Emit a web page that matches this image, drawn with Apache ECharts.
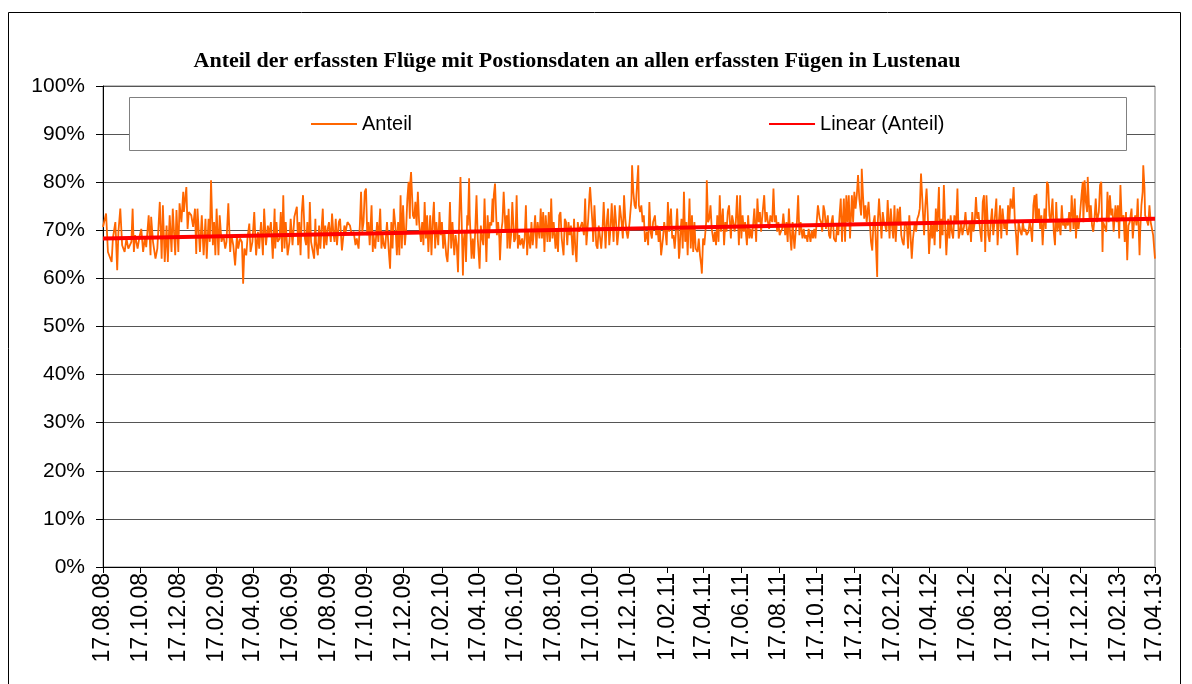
<!DOCTYPE html>
<html>
<head>
<meta charset="utf-8">
<title>Anteil der erfassten Flüge</title>
<script src="https://cdn.jsdelivr.net/npm/echarts@6/dist/echarts.min.js"></script>
<style>
html, body { margin: 0; padding: 0; background: #fff; }
#chart { width: 1192px; height: 684px; }
</style>
</head>
<body>
<div id="chart"></div>
<script>
// täglich vom 17.08.08 bis 17.04.13
const startUtc = Date.UTC(2008, 7, 17)
const dayCount = 1705

const tickLabels = ['17.08.08', '17.10.08', '17.12.08', '17.02.09', '17.04.09', '17.06.09', '17.08.09',
  '17.10.09', '17.12.09', '17.02.10', '17.04.10', '17.06.10', '17.08.10', '17.10.10', '17.12.10',
  '17.02.11', '17.04.11', '17.06.11', '17.08.11', '17.10.11', '17.12.11', '17.02.12', '17.04.12',
  '17.06.12', '17.08.12', '17.10.12', '17.12.12', '17.02.13', '17.04.13']

const anteil = [
  [0, 70.7], [5, 73.5], [8, 65.5], [14, 63.4], [16, 68.3], [20, 71.7], [23, 61.7], [25, 69.7], [28, 74.5], [31, 66.9], [35, 65.5], [38, 68.3], [41, 66.2], [46, 67.6], [48, 74.5], [50, 65.5], [52, 69.0], [56, 66.2], [59, 68.6], [62, 70.3], [65, 65.5], [68, 68.6], [70, 66.5], [74, 73.1], [77, 64.8], [78, 72.8], [81, 67.6], [85, 64.1], [88, 66.2], [92, 75.9], [95, 64.1], [97, 75.2], [100, 63.4], [103, 71.0], [105, 63.4], [108, 73.1], [111, 65.5], [113, 74.5], [117, 64.8], [119, 74.2], [122, 65.5], [124, 75.6], [127, 71.7], [130, 78.0], [131, 73.8], [135, 79.0], [137, 70.3], [139, 73.8], [143, 73.1], [146, 70.7], [149, 74.5], [151, 65.1],
  [153, 74.5], [157, 65.5], [160, 73.1], [163, 64.8], [166, 72.4], [168, 64.1], [171, 72.4], [173, 67.6], [175, 80.4], [178, 66.9], [180, 71.7], [182, 64.8], [184, 74.5], [187, 64.8], [189, 73.1], [192, 67.6], [195, 69.0], [198, 66.2], [200, 67.6], [203, 75.6], [206, 65.5], [208, 69.0], [211, 66.9], [214, 62.7], [217, 69.0], [219, 66.2], [222, 68.3], [225, 67.6], [227, 58.9], [229, 66.2], [232, 64.8], [234, 68.3], [237, 71.4], [239, 65.5], [242, 67.6], [245, 73.8], [248, 64.8], [251, 69.7], [253, 66.2], [256, 71.7], [259, 64.8], [261, 74.5], [264, 66.9], [267, 71.0], [269, 69.0], [272, 71.7], [275, 64.1], [278, 74.5], [279, 66.2], [281, 71.7], [283, 67.6], [286, 68.3], [288, 73.8], [290, 65.5], [292, 77.3], [294, 66.2], [296, 71.7], [299, 64.8], [302, 67.6], [304, 72.4], [307, 66.9], [310, 72.8],
  [314, 74.9], [316, 66.9], [318, 71.7], [320, 64.8], [322, 73.8], [324, 77.3], [327, 68.3], [329, 66.9], [331, 71.7], [333, 64.1], [335, 75.9], [337, 67.6], [339, 66.2], [342, 64.1], [344, 72.4], [345, 67.6], [348, 64.8], [350, 71.0], [352, 66.2], [356, 74.5], [358, 66.2], [360, 71.0], [362, 66.9], [364, 70.3], [366, 71.7], [369, 67.6], [371, 73.5], [373, 69.7], [375, 67.6], [377, 72.4], [379, 66.9], [382, 71.7], [384, 72.4], [387, 65.8], [391, 71.0], [393, 69.7], [396, 71.7], [398, 72.1], [400, 71.0], [403, 69.0], [406, 69.7], [409, 66.9], [411, 68.3], [414, 66.2], [416, 71.0], [418, 78.0], [420, 69.7], [422, 71.7], [424, 78.0], [426, 78.7], [428, 69.0], [430, 71.7], [432, 66.9], [435, 75.2], [437, 65.5], [438, 69.0], [441, 66.2], [444, 71.7], [446, 67.6], [449, 74.5], [451, 66.2], [453, 69.0], [455, 66.9], [457, 66.2], [460, 71.7], [463, 65.5], [465, 62.0], [467, 71.7],
  [469, 66.2], [471, 74.5], [474, 70.3], [476, 64.8], [478, 71.7], [480, 64.8], [482, 77.3], [484, 66.2], [486, 75.2], [489, 66.9], [491, 70.3], [493, 76.6], [495, 80.1], [497, 72.4], [498, 80.4], [499, 82.1], [502, 73.1], [504, 72.4], [506, 75.9], [508, 71.0], [510, 78.0], [512, 71.7], [515, 67.6], [517, 71.7], [519, 66.9], [521, 75.9], [523, 68.3], [525, 73.1], [527, 65.5], [530, 73.1], [532, 64.8], [534, 71.7], [536, 75.9], [538, 66.2], [540, 71.7], [543, 66.9], [545, 73.8], [547, 69.0], [549, 71.7], [551, 66.2], [553, 69.7], [556, 64.8], [558, 63.4], [560, 68.3], [562, 75.9], [564, 66.2], [566, 71.7], [569, 64.8], [571, 69.0], [573, 66.9], [575, 61.3], [577, 72.4], [579, 81.1], [581, 71.7], [583, 60.6], [584, 67.6], [586, 69.7], [588, 63.4], [590, 73.1], [591, 71.0], [593, 80.8], [594, 73.1], [597, 64.1], [599, 68.3], [601, 64.1], [603, 70.3], [605, 77.3], [607, 68.3], [610, 62.0], [612, 71.0], [614, 68.3], [616, 66.9], [618, 76.6], [621, 63.4], [623, 73.1],
  [625, 68.3], [627, 71.7], [629, 71.0], [631, 76.6], [632, 71.7], [633, 77.3], [635, 79.7], [638, 69.0], [640, 71.7], [642, 68.3], [643, 63.8], [645, 69.7], [647, 71.7], [649, 78.0], [652, 69.7], [654, 73.1], [655, 66.2], [657, 74.5], [659, 66.2], [661, 69.0], [663, 75.9], [666, 67.6], [668, 68.3], [670, 77.3], [672, 66.2], [674, 69.0], [676, 66.9], [679, 68.3], [681, 66.2], [683, 68.3], [685, 75.2], [687, 64.8], [689, 69.7], [692, 66.2], [694, 71.7], [696, 66.9], [698, 69.7], [700, 73.1], [702, 66.2], [704, 71.7], [707, 68.3], [709, 74.5], [711, 68.3], [713, 73.8], [715, 65.5], [717, 73.1], [720, 67.6], [722, 73.8], [724, 67.6], [726, 76.6], [728, 68.3], [730, 71.7], [733, 66.2], [735, 70.3], [737, 65.5], [739, 73.1], [741, 73.8], [743, 68.3], [746, 64.8], [748, 72.4], [750, 71.7], [752, 66.9], [754, 71.7], [756, 69.0], [758, 71.0], [761, 64.8], [763, 72.4], [765, 66.2], [767, 63.4], [769, 71.7], [771, 69.7], [774, 69.7], [776, 71.7],
  [779, 69.0], [781, 76.6], [783, 66.9], [786, 72.4], [788, 77.3], [789, 79.0], [791, 79.4], [793, 71.0], [794, 67.6], [796, 75.2], [799, 66.9], [801, 66.2], [803, 71.0], [805, 71.0], [807, 66.2], [809, 69.7], [811, 75.9], [814, 66.2], [816, 71.7], [818, 74.5], [820, 66.9], [822, 70.3], [824, 75.6], [827, 67.6], [829, 75.2], [831, 71.7], [833, 66.9], [835, 69.7], [837, 75.2], [840, 71.7], [842, 68.3], [844, 77.3], [846, 72.4], [848, 69.7], [850, 68.3], [853, 71.7], [855, 71.7], [856, 76.6], [857, 83.5], [859, 78.0], [861, 75.2], [863, 74.5], [864, 77.3], [867, 83.5], [868, 75.2], [870, 73.8], [872, 75.2], [874, 71.7], [876, 73.1], [878, 67.6], [881, 69.7], [883, 66.9], [885, 75.9], [887, 69.7], [889, 68.3], [891, 71.7], [894, 73.1], [896, 69.0], [898, 71.0], [900, 67.6], [902, 70.3], [904, 64.8], [907, 68.3], [909, 71.7], [911, 69.7], [913, 66.9], [915, 75.9], [917, 69.7], [920, 74.5], [922, 68.3], [924, 69.0], [926, 66.2], [928, 69.7], [930, 74.5], [933, 64.1], [934, 65.5],
  [935, 69.0], [937, 72.4], [939, 66.2], [941, 78.0], [943, 67.6], [945, 71.7], [947, 64.8], [950, 76.6], [952, 66.2], [954, 73.1], [956, 65.5], [958, 71.7], [960, 66.2], [963, 65.5], [965, 68.3], [967, 64.8], [969, 62.7], [970, 61.0], [972, 68.3], [974, 66.9], [977, 71.7], [978, 80.4], [980, 71.7], [982, 72.4], [984, 75.2], [986, 70.3], [989, 67.6], [991, 69.7], [993, 66.9], [995, 73.1], [997, 67.6], [999, 77.3], [1001, 69.7], [1004, 74.5], [1006, 66.9], [1008, 71.7], [1010, 69.7], [1012, 73.8], [1014, 75.2], [1017, 68.3], [1019, 73.1], [1021, 71.7], [1023, 69.7], [1025, 71.7], [1027, 77.3], [1030, 66.9], [1032, 77.3], [1034, 68.3], [1036, 73.1], [1038, 69.7], [1040, 71.7], [1043, 66.9], [1045, 73.1], [1047, 68.3], [1049, 70.3], [1051, 68.3], [1053, 71.0], [1055, 74.5], [1058, 67.6], [1060, 76.6], [1062, 71.7], [1064, 73.8], [1066, 69.7], [1068, 73.1], [1071, 77.3], [1073, 71.7], [1075, 73.8], [1077, 71.7], [1079, 70.3], [1081, 73.1], [1084, 71.7], [1086, 78.7], [1088, 71.7],
  [1090, 73.1], [1092, 69.7], [1094, 71.7], [1096, 69.0], [1098, 69.7], [1100, 70.3], [1102, 73.5], [1105, 69.0], [1107, 71.7], [1109, 67.6], [1111, 74.5], [1113, 69.0], [1115, 65.8], [1117, 71.7], [1120, 66.2], [1122, 69.7], [1124, 71.7], [1126, 77.3], [1128, 69.0], [1130, 71.7], [1133, 68.3], [1135, 70.3], [1137, 68.3], [1139, 69.0], [1141, 67.6], [1143, 70.3], [1146, 67.6], [1148, 70.0], [1150, 68.3], [1152, 70.3], [1154, 68.3], [1156, 71.7], [1158, 75.2], [1161, 72.4], [1163, 71.7], [1165, 69.7], [1167, 75.2], [1169, 73.8], [1171, 70.3], [1174, 73.1], [1176, 69.0], [1178, 68.3], [1180, 71.7], [1182, 73.1], [1184, 68.3], [1187, 67.6], [1189, 71.0], [1191, 69.0], [1193, 73.1], [1195, 76.6], [1197, 67.6], [1200, 76.6], [1202, 67.6], [1204, 77.3], [1206, 71.7], [1208, 77.3], [1210, 68.3], [1213, 77.3], [1215, 71.7], [1217, 78.0], [1219, 74.5], [1221, 77.3], [1223, 81.5], [1225, 76.6], [1228, 73.1], [1229, 82.8], [1231, 77.3], [1233, 72.4], [1235, 75.2], [1237, 71.7], [1240, 75.9], [1242, 71.7], [1244, 67.6],
  [1246, 65.8], [1248, 71.7], [1250, 73.1], [1252, 66.9], [1254, 60.3], [1255, 71.7], [1257, 76.6], [1258, 76.9], [1261, 68.3], [1263, 73.8], [1265, 71.7], [1267, 71.0], [1269, 69.7], [1271, 76.3], [1274, 68.3], [1276, 74.5], [1278, 71.0], [1280, 68.3], [1282, 75.2], [1284, 67.6], [1287, 74.5], [1289, 71.0], [1291, 74.9], [1293, 69.0], [1295, 67.6], [1297, 66.9], [1299, 71.7], [1302, 71.0], [1304, 66.2], [1306, 73.1], [1308, 69.0], [1310, 64.1], [1312, 68.3], [1315, 71.7], [1317, 69.7], [1319, 72.4], [1321, 73.1], [1323, 74.5], [1325, 81.8], [1328, 81.5], [1330, 69.0], [1332, 75.2], [1334, 78.7], [1336, 73.1], [1338, 65.1], [1341, 71.7], [1343, 68.3], [1345, 71.7], [1347, 66.9], [1349, 74.5], [1351, 69.7], [1354, 79.0], [1356, 66.2], [1358, 72.4], [1360, 69.0], [1362, 79.4], [1364, 71.7], [1366, 64.8], [1369, 72.4], [1371, 68.3], [1373, 73.1], [1375, 69.7], [1377, 68.3], [1379, 73.1], [1382, 71.7], [1384, 78.7], [1386, 68.3], [1388, 69.7], [1390, 71.7], [1392, 69.0], [1395, 71.0], [1397, 73.8], [1399, 70.3],
  [1401, 69.0], [1404, 71.7], [1406, 67.6], [1408, 73.8], [1410, 69.7], [1412, 71.7], [1414, 76.9], [1416, 72.4], [1418, 73.8], [1421, 69.7], [1423, 67.6], [1425, 75.9], [1427, 77.3], [1429, 65.5], [1431, 77.3], [1434, 69.0], [1436, 67.6], [1438, 71.7], [1440, 74.5], [1442, 69.0], [1444, 71.7], [1447, 76.6], [1449, 66.9], [1451, 71.7], [1453, 75.2], [1455, 68.3], [1457, 74.5], [1460, 70.3], [1462, 71.7], [1464, 69.0], [1466, 75.2], [1468, 71.7], [1470, 76.6], [1473, 74.5], [1475, 79.0], [1477, 71.7], [1479, 69.0], [1481, 64.8], [1483, 71.7], [1486, 69.7], [1488, 69.0], [1490, 71.7], [1492, 69.7], [1494, 70.3], [1496, 69.0], [1499, 69.7], [1501, 71.7], [1503, 70.3], [1505, 67.6], [1507, 75.2], [1509, 77.3], [1511, 71.7], [1512, 77.6], [1514, 71.7], [1516, 74.5], [1518, 70.3], [1520, 73.1], [1522, 66.9], [1525, 74.5], [1527, 70.3], [1529, 80.1], [1531, 79.4], [1533, 73.1], [1535, 71.7], [1538, 76.6], [1540, 69.7], [1542, 66.9], [1544, 75.9], [1546, 69.7], [1548, 72.4], [1551, 69.0], [1553, 75.2], [1555, 71.0],
  [1557, 71.7], [1559, 70.3], [1561, 72.4], [1563, 71.0], [1565, 73.8], [1567, 69.7], [1569, 77.3], [1572, 70.3], [1574, 76.6], [1576, 68.3], [1578, 73.1], [1580, 70.3], [1582, 72.4], [1585, 77.3], [1587, 80.1], [1588, 71.7], [1590, 80.4], [1592, 75.9], [1594, 73.8], [1595, 81.1], [1598, 72.4], [1600, 75.2], [1602, 71.0], [1604, 69.7], [1606, 72.4], [1608, 76.6], [1610, 71.7], [1613, 73.8], [1615, 79.4], [1617, 80.1], [1619, 65.5], [1620, 71.7], [1622, 71.0], [1625, 69.7], [1627, 78.0], [1629, 71.7], [1631, 77.3], [1633, 73.1], [1635, 74.5], [1637, 69.7], [1640, 75.2], [1642, 71.7], [1644, 75.2], [1646, 68.3], [1648, 79.4], [1650, 72.4], [1653, 73.1], [1655, 67.6], [1657, 73.8], [1659, 63.8], [1661, 71.0], [1663, 71.7], [1666, 74.5], [1668, 68.3], [1670, 71.7], [1672, 73.1], [1674, 71.0], [1676, 76.6], [1679, 64.8], [1680, 69.7], [1682, 75.2], [1684, 78.0], [1685, 83.5], [1687, 78.7], [1688, 73.1], [1690, 72.4], [1693, 71.0], [1695, 75.2], [1697, 71.7], [1699, 71.7], [1701, 69.0], [1704, 64.1]
]

// lineare Trendlinie: Anfang und Ende
const trend = [[0, 68.3], [1704, 72.4]]

function fmt (n) {
  return (n < 10 ? '0' : '') + n
}

const days = []
for (let i = 0; i < dayCount; i++) {
  const d = new Date(startUtc + i * 86400000)
  days.push(fmt(d.getUTCDate()) + '.' + fmt(d.getUTCMonth() + 1) + '.' + fmt(d.getUTCFullYear() % 100))
}

function toSeries (pairs) {
  const arr = new Array(dayCount).fill(null)
  pairs.forEach(p => { arr[p[0]] = p[1] })
  return arr
}

const tickSet = new Set(tickLabels)
const showTick = (index, value) => tickSet.has(value)

const chart = echarts.init(document.getElementById('chart'))
chart.setOption({
  animation: false,
  backgroundColor: '#fff',
  title: {
    text: 'Anteil der erfassten Flüge mit Postionsdaten an allen erfassten Fügen in Lustenau',
    left: 577,
    top: 50,
    padding: 0,
    textAlign: 'center',
    textStyle: {
      fontFamily: 'Liberation Serif',
      fontWeight: 'bold',
      fontSize: 22,
      color: '#000'
    }
  },
  graphic: [
    {
      type: 'rect',
      z: 0,
      shape: { x: 8.5, y: 12.5, width: 1172, height: 700 },
      style: { fill: null, stroke: '#000', lineWidth: 1 }
    },
    {
      type: 'rect',
      z: 3,
      shape: { x: 129.5, y: 97.5, width: 997, height: 53 },
      style: { fill: '#fff', stroke: '#808080', lineWidth: 1 }
    }
  ],
  legend: {
    left: 310,
    top: 114,
    padding: 0,
    itemGap: 356,
    itemWidth: 46,
    itemHeight: 14,
    // nur Linie, kein Punkt
    itemStyle: { opacity: 0 },
    textStyle: { fontFamily: 'Liberation Sans', fontSize: 20, color: '#000' },
    data: ['Anteil', 'Linear (Anteil)']
  },
  grid: {
    left: 103,
    right: 37,
    top: 86,
    bottom: 117,
    show: true,
    borderColor: '#808080',
    borderWidth: 1,
    backgroundColor: '#fff'
  },
  xAxis: {
    type: 'category',
    data: days,
    boundaryGap: false,
    axisLine: { lineStyle: { color: '#000', width: 1 } },
    axisTick: { show: true, inside: false, length: 6, interval: showTick, lineStyle: { color: '#000' } },
    axisLabel: {
      interval: showTick,
      rotate: 90,
      margin: 6,
      fontFamily: 'Liberation Sans',
      fontSize: 23,
      color: '#000'
    },
    splitLine: { show: false }
  },
  yAxis: {
    type: 'value',
    min: 0,
    max: 100,
    interval: 10,
    axisLine: { show: true, lineStyle: { color: '#000', width: 1 } },
    axisTick: { show: true, inside: false, length: 7, lineStyle: { color: '#000' } },
    axisLabel: {
      formatter: '{value}%',
      margin: 18,
      fontFamily: 'Liberation Sans',
      fontSize: 21,
      color: '#000'
    },
    splitLine: { show: true, lineStyle: { color: '#555', width: 1 } }
  },
  series: [
    {
      name: 'Anteil',
      type: 'line',
      data: toSeries(anteil),
      connectNulls: true,
      symbol: 'none',
      z: 2,
      lineStyle: { color: '#ff6600', width: 1.8 },
      itemStyle: { color: '#ff6600' }
    },
    {
      name: 'Linear (Anteil)',
      type: 'line',
      data: toSeries(trend),
      connectNulls: true,
      symbol: 'none',
      z: 5,
      lineStyle: { color: '#ff0000', width: 4 },
      itemStyle: { color: '#ff0000' }
    }
  ]
})
</script>
</body>
</html>
